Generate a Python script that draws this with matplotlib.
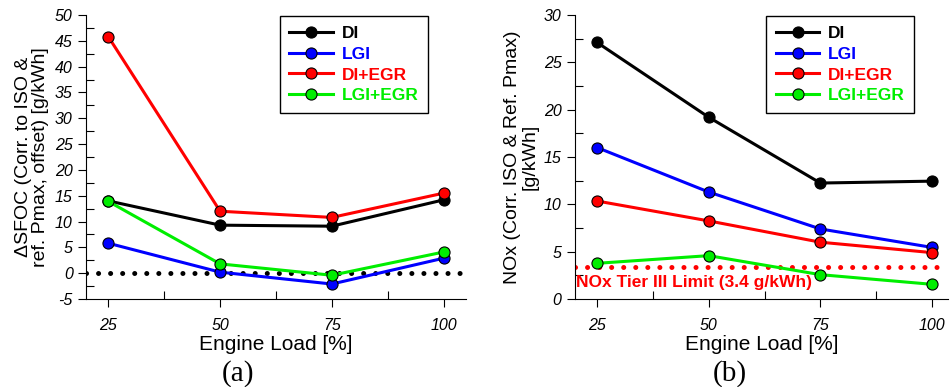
import numpy as np
import matplotlib.pyplot as plt
from matplotlib.ticker import MultipleLocator

plt.rcParams['font.family'] = ['Liberation Sans', 'DejaVu Sans']
plt.rcParams['axes.unicode_minus'] = False

load = [25, 50, 75, 100]
series_names = ["DI", "LGI", "DI+EGR", "LGI+EGR"]
series_colors = ["#000000", "#0000ff", "#ff0000", "#00ee00"]

# (a) delta SFOC [g/kWh]
sfoc_di = [14.0, 9.3, 9.1, 14.2]
sfoc_lgi = [5.8, 0.2, -2.1, 2.9]
sfoc_di_egr = [45.8, 12.0, 10.8, 15.5]
sfoc_lgi_egr = [13.9, 1.8, -0.4, 4.1]

# (b) NOx [g/kWh]
nox_di = [27.1, 19.2, 12.25, 12.45]
nox_lgi = [16.0, 11.3, 7.4, 5.45]
nox_di_egr = [10.35, 8.25, 6.0, 4.9]
nox_lgi_egr = [3.77, 4.58, 2.57, 1.55]
nox_limit = 3.4

fig = plt.figure(figsize=(9.5, 3.87), dpi=100)
ax1 = fig.add_axes([0.0905, 0.2274, 0.40, 0.7338])
ax2 = fig.add_axes([0.605, 0.2274, 0.393, 0.7338])


def style_axis(ax, ylim, ystep):
    for s in ["top", "right"]:
        ax.spines[s].set_visible(False)
    ax.set_xlim(20, 105)
    ax.set_ylim(*ylim)
    ax.xaxis.set_major_locator(MultipleLocator(25))
    ax.xaxis.set_minor_locator(MultipleLocator(12.5))
    ax.yaxis.set_major_locator(MultipleLocator(ystep))
    ax.yaxis.set_minor_locator(MultipleLocator(ystep / 2))
    ax.tick_params(which="major", direction="out", length=6, width=0.8,
                   labelsize=11.5)
    ax.tick_params(which="minor", direction="in", length=6, width=0.8)
    ax.tick_params(axis="x", pad=8)
    for lbl in ax.get_xticklabels() + ax.get_yticklabels():
        lbl.set_fontstyle("italic")
    ax.set_xlabel("Engine Load [%]", fontsize=15, labelpad=1)


def draw_series(ax, data, anchor_x):
    for vals, name, col in zip(data, series_names, series_colors):
        ax.plot(load, vals, "-o", color=col, lw=2.2, ms=8,
                markeredgecolor="black", markeredgewidth=0.8,
                label=name, clip_on=False, zorder=3)
    leg = ax.legend(loc="upper right", bbox_to_anchor=(anchor_x, 0.995),
                    borderaxespad=0, fancybox=False, framealpha=1,
                    edgecolor="black", handlelength=2.5, handletextpad=0.5,
                    prop={"weight": "bold", "size": 12.5},
                    borderpad=0.55, labelspacing=0.32)
    leg.get_frame().set_linewidth(1.0)
    for txt, col in zip(leg.get_texts(), series_colors):
        txt.set_color(col)


ax1.axhline(0, color="black", ls=(0, (0.01, 2.4)), lw=3.6,
            dash_capstyle="round", zorder=2)
draw_series(ax1, [sfoc_di, sfoc_lgi, sfoc_di_egr, sfoc_lgi_egr], 0.9)
style_axis(ax1, (-5, 50), 5)
ax1.set_ylabel("ΔSFOC (Corr. to ISO &\nref. Pmax, offset) [g/kWh]",
               fontsize=14, labelpad=4, linespacing=1.0)

ax2.axhline(nox_limit, color="red", ls=(0, (0.01, 2.4)), lw=3.6,
            dash_capstyle="round", zorder=2)
draw_series(ax2, [nox_di, nox_lgi, nox_di_egr, nox_lgi_egr], 0.91)
style_axis(ax2, (0, 30), 5)
ax2.set_xlim(20, 103.6)
ax2.set_ylabel("NOx (Corr. ISO & Ref. Pmax)\n[g/kWh]",
               fontsize=14, labelpad=4, linespacing=1.0)
ax2.text(20.3, 1.7, "NOx Tier III Limit (3.4 g/kWh)", color="red",
         fontsize=12.5, fontweight="bold", va="center", ha="left")

fig.text(0.251, 0.036, "(a)", fontsize=21, family="Liberation Serif",
         ha="center", va="center")
fig.text(0.768, 0.036, "(b)", fontsize=21, family="Liberation Serif",
         ha="center", va="center")

fig.savefig("out.png", dpi=100)
